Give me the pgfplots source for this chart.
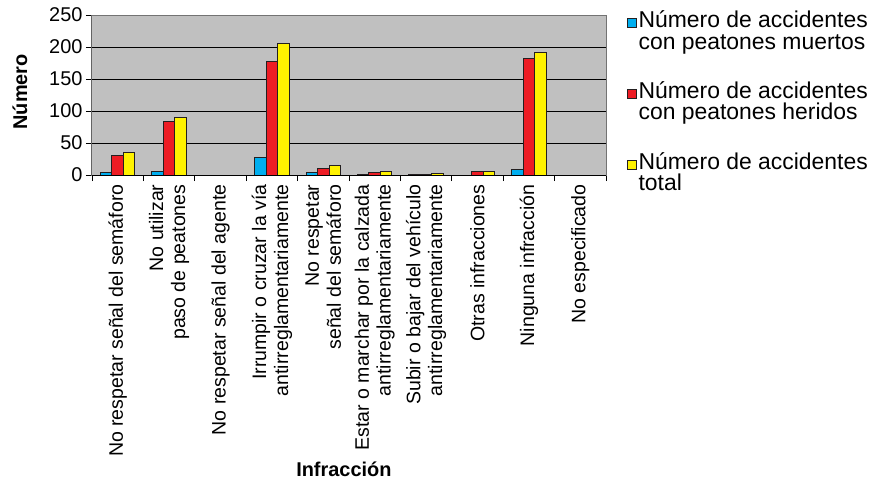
\documentclass[border=0pt]{standalone}
\usepackage{pgfplots}
\pgfplotsset{compat=1.18}
\usepackage{fontspec}
\setmainfont{Liberation Sans}
\definecolor{cblue}{RGB}{0,174,239}
\definecolor{cred}{RGB}{237,28,36}
\definecolor{cyellow}{RGB}{255,242,0}
\definecolor{plotbg}{RGB}{192,192,192}
\definecolor{edge}{RGB}{35,31,32}
\begin{document}
\begin{tikzpicture}
\path[use as bounding box] (-92bp,-306bp) rectangle (785bp,175bp);
\begin{axis}[
  scale only axis, width=514bp, height=160bp,
  ybar=0pt, bar width=11.5bp,
  xmin=-0.5, xmax=9.5, ymin=0, ymax=250,
  ytick={0,50,...,250},
  xtick={0,...,9},
  xticklabels={
    No respetar señal del semáforo,
    No utilizar\\paso de peatones,
    No respetar señal del agente,
    Irrumpir o cruzar la vía\\antirreglamentariamente,
    No respetar\\señal del semáforo,
    Estar o marchar por la calzada\\antirreglamentariamente,
    Subir o bajar del vehículo\\antirreglamentariamente,
    Otras infracciones,
    Ninguna infracción,
    No especificado},
  xtick pos=bottom, ytick pos=left,
  major x tick style={draw=none},
  minor xtick={-0.5,0.5,...,9.5},
  minor tick length=6bp,
  major tick length=6bp,
  tick align=outside,
  tick style={black, line width=0.8pt},
  axis background/.style={fill=plotbg},
  axis line style={black!55, line width=1pt},
  ymajorgrids, grid style={black, line width=0.7pt},
  x tick label style={rotate=90, anchor=east, align=right, font=\fontsize{19.6}{22}\selectfont},
  y tick label style={font=\fontsize{20}{22}\selectfont},
  /pgf/number format/assume math mode=true,
  xlabel={\bfseries Infracción},
  xlabel style={font=\fontsize{20}{22}\selectfont, at={(axis description cs:0.49,-1.84)}, anchor=center},
  ylabel={\bfseries Número},
  ylabel style={font=\fontsize{20}{22}\selectfont, at={(axis description cs:-0.14,0.52)}, anchor=center},
  legend style={at={(axis description cs:1.04,1.04)}, anchor=north west, draw=none, fill=none,
    font=\fontsize{23}{21.5}\selectfont, row sep=27bp, inner sep=0pt},
  legend cell align=left,
  legend image code/.code={\draw[#1, line width=0.8pt] (0bp,3bp) rectangle (9bp,12bp);},
  every axis plot/.append style={draw=edge, line width=1pt},
]
\addplot[fill=cblue] coordinates {(0,4) (1,6) (2,0) (3,27) (4,4) (5,1.5) (6,1) (7,0) (8,9) (9,0)};
\addlegendentry[align=left]{Número de accidentes\\con peatones muertos}
\addplot[fill=cred] coordinates {(0,31) (1,83) (2,0) (3,177) (4,10) (5,4) (6,1) (7,5) (8,182) (9,0)};
\addlegendentry[align=left]{Número de accidentes\\con peatones heridos}
\addplot[fill=cyellow] coordinates {(0,35) (1,90) (2,0) (3,205) (4,15) (5,6) (6,2) (7,5) (8,192) (9,0)};
\addlegendentry[align=left]{Número de accidentes\\total}
\draw[black, line width=1pt] (rel axis cs:0,1) -- (rel axis cs:0,0) -- (rel axis cs:1,0);
\end{axis}
\end{tikzpicture}
\end{document}
